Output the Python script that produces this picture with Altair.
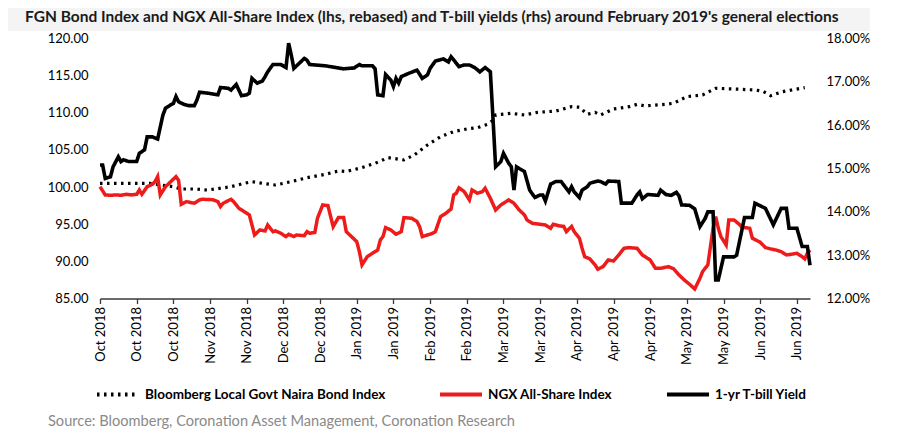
import altair as alt
import pandas as pd

title_text = "FGN Bond Index and NGX All-Share Index (lhs, rebased) and T-bill yields (rhs) around February 2019's general elections"
source_text = "Source: Bloomberg, Coronation Asset Management, Coronation Research"

series_names = ["Bloomberg Local Govt Naira Bond Index", "NGX All-Share Index", "1-yr T-bill Yield"]

tick_dates = ["2018-10-01", "2018-10-15", "2018-10-29", "2018-11-12", "2018-11-26",
              "2018-12-10", "2018-12-24", "2019-01-07", "2019-01-21", "2019-02-04",
              "2019-02-18", "2019-03-04", "2019-03-18", "2019-04-01", "2019-04-15",
              "2019-04-29", "2019-05-13", "2019-05-27", "2019-06-10", "2019-06-24"]
x_start = "2018-10-01"
x_end = "2019-06-29"

left_ticks = [85, 90, 95, 100, 105, 110, 115, 120]
right_ticks = [12, 13, 14, 15, 16, 17, 18]

bond_dates = ["2018-10-01", "2018-10-20", "2018-10-29", "2018-11-01", "2018-11-06", "2018-11-11",
              "2018-11-14", "2018-11-20", "2018-11-25", "2018-11-28", "2018-12-02", "2018-12-07",
              "2018-12-13", "2018-12-19", "2018-12-26", "2018-12-31", "2019-01-03", "2019-01-09",
              "2019-01-14", "2019-01-19", "2019-01-25", "2019-01-29", "2019-02-03", "2019-02-08",
              "2019-02-13", "2019-02-18", "2019-02-22", "2019-02-26", "2019-02-28", "2019-03-01",
              "2019-03-07", "2019-03-12", "2019-03-17", "2019-03-24", "2019-03-30", "2019-04-02",
              "2019-04-05", "2019-04-08", "2019-04-10", "2019-04-15", "2019-04-21", "2019-04-24",
              "2019-04-27", "2019-05-05", "2019-05-08", "2019-05-13", "2019-05-19", "2019-05-24",
              "2019-05-31", "2019-06-08", "2019-06-11", "2019-06-14", "2019-06-18", "2019-06-22",
              "2019-06-27"]
bond_values = [100.50, 100.50, 100.05, 99.74, 99.74, 99.60,
               99.74, 100.05, 100.50, 100.73, 100.50, 100.28,
               100.73, 101.26, 101.72, 102.17, 102.10, 102.62,
               103.20, 103.96, 103.65, 104.32, 105.67, 106.78,
               107.46, 107.82, 108.00, 108.45, 109.00, 109.70,
               109.93, 109.70, 110.06, 110.24, 110.82, 110.75,
               109.80, 110.06, 109.70, 110.51, 110.82, 111.14,
               110.92, 111.14, 111.30, 112.17, 112.40, 113.30,
               113.20, 113.07, 112.90, 112.30, 112.80, 113.07,
               113.38]

ngx_dates = ["2018-10-01", "2018-10-03", "2018-10-05", "2018-10-07", "2018-10-09", "2018-10-11",
             "2018-10-13", "2018-10-15", "2018-10-16", "2018-10-17", "2018-10-19", "2018-10-21",
             "2018-10-22", "2018-10-23", "2018-10-24", "2018-10-26", "2018-10-28", "2018-10-30",
             "2018-10-31", "2018-11-01", "2018-11-03", "2018-11-06", "2018-11-08", "2018-11-09",
             "2018-11-13", "2018-11-15", "2018-11-16", "2018-11-17", "2018-11-20", "2018-11-21",
             "2018-11-23", "2018-11-25", "2018-11-27", "2018-11-28", "2018-11-29", "2018-12-01",
             "2018-12-03", "2018-12-04", "2018-12-05", "2018-12-06", "2018-12-07", "2018-12-09",
             "2018-12-11", "2018-12-12", "2018-12-14", "2018-12-15", "2018-12-18", "2018-12-19",
             "2018-12-20", "2018-12-22", "2018-12-23", "2018-12-25", "2018-12-27", "2018-12-29",
             "2018-12-31", "2019-01-02", "2019-01-03", "2019-01-05", "2019-01-07", "2019-01-08",
             "2019-01-09", "2019-01-11", "2019-01-13", "2019-01-15", "2019-01-16", "2019-01-17",
             "2019-01-18", "2019-01-20", "2019-01-22", "2019-01-24", "2019-01-25", "2019-01-28",
             "2019-01-30", "2019-01-31", "2019-02-01", "2019-02-03", "2019-02-05", "2019-02-06",
             "2019-02-08", "2019-02-10", "2019-02-12", "2019-02-13", "2019-02-14", "2019-02-15",
             "2019-02-17", "2019-02-19", "2019-02-20", "2019-02-22", "2019-02-24", "2019-02-25",
             "2019-02-27", "2019-03-01", "2019-03-03", "2019-03-06", "2019-03-08", "2019-03-10",
             "2019-03-12", "2019-03-13", "2019-03-15", "2019-03-18", "2019-03-20", "2019-03-22",
             "2019-03-23", "2019-03-25", "2019-03-27", "2019-03-28", "2019-03-30", "2019-03-31",
             "2019-04-02", "2019-04-03", "2019-04-04", "2019-04-06", "2019-04-08", "2019-04-09",
             "2019-04-11", "2019-04-13", "2019-04-15", "2019-04-17", "2019-04-19", "2019-04-21",
             "2019-04-24", "2019-04-25", "2019-04-26", "2019-04-29", "2019-05-01", "2019-05-03",
             "2019-05-06", "2019-05-08", "2019-05-10", "2019-05-12", "2019-05-14", "2019-05-16",
             "2019-05-18", "2019-05-19", "2019-05-21", "2019-05-23", "2019-05-24", "2019-05-25",
             "2019-05-26", "2019-05-28", "2019-05-29", "2019-05-31", "2019-06-02", "2019-06-03",
             "2019-06-06", "2019-06-07", "2019-06-10", "2019-06-12", "2019-06-14", "2019-06-16",
             "2019-06-18", "2019-06-20", "2019-06-22", "2019-06-24", "2019-06-26", "2019-06-27",
             "2019-06-28", "2019-06-29"]
ngx_values = [100.05, 98.94, 98.90, 98.94, 98.90, 99.03,
              98.94, 99.03, 99.61, 99.03, 100.05, 100.38,
              100.73, 101.40, 98.94, 100.05, 100.73, 101.40,
              100.90, 97.69, 98.04, 97.82, 98.27, 98.36,
              98.30, 98.04, 97.37, 97.82, 98.36, 98.04,
              97.15, 96.70, 96.25, 94.90, 93.55, 94.23,
              94.09, 94.90, 94.45, 94.00, 94.10, 93.78,
              93.33, 93.65, 93.33, 93.55, 93.45, 94.00,
              93.78, 93.90, 95.80, 97.59, 97.50, 94.67,
              95.89, 95.89, 94.00, 93.33, 92.65, 91.31,
              89.52, 90.63, 91.09, 91.53, 92.88, 93.33,
              94.54, 94.23, 93.65, 94.00, 95.89, 95.80,
              95.35, 94.67, 93.33, 93.55, 93.78, 94.00,
              96.02, 96.47, 97.05, 98.94, 99.17, 99.90,
              99.39, 98.27, 99.61, 99.17, 99.39, 99.84,
              98.49, 96.92, 97.59, 98.27, 97.82, 96.92,
              96.25, 95.57, 95.13, 94.99, 94.90, 94.45,
              94.99, 94.80, 94.70, 94.00, 94.70, 94.00,
              93.11, 91.76, 90.63, 90.33, 89.52, 88.94,
              89.29, 90.19, 90.05, 90.86, 91.76, 91.85,
              91.76, 91.31, 90.86, 90.19, 89.07, 89.07,
              89.29, 88.98, 88.17, 87.50, 86.92, 86.28,
              87.72, 88.62, 89.52, 94.45, 96.02, 94.45,
              93.33, 92.21, 95.57, 95.57, 94.99, 94.60,
              94.45, 93.11, 92.57, 91.85, 91.67, 91.53,
              91.31, 90.86, 90.96, 91.09, 90.63, 90.33,
              91.10, 91.53]

tbill_dates = ["2018-10-01", "2018-10-02", "2018-10-03", "2018-10-05", "2018-10-06", "2018-10-08",
               "2018-10-09", "2018-10-10", "2018-10-12", "2018-10-15", "2018-10-16", "2018-10-18",
               "2018-10-19", "2018-10-21", "2018-10-23", "2018-10-25", "2018-10-26", "2018-10-28",
               "2018-10-29", "2018-10-30", "2018-10-31", "2018-11-02", "2018-11-04", "2018-11-06",
               "2018-11-07", "2018-11-08", "2018-11-11", "2018-11-15", "2018-11-16", "2018-11-19",
               "2018-11-20", "2018-11-22", "2018-11-24", "2018-11-26", "2018-11-27", "2018-11-28",
               "2018-11-30", "2018-12-02", "2018-12-03", "2018-12-04", "2018-12-06", "2018-12-09",
               "2018-12-11", "2018-12-12", "2018-12-13", "2018-12-14", "2018-12-18", "2018-12-19",
               "2018-12-20", "2018-12-26", "2019-01-02", "2019-01-06", "2019-01-08", "2019-01-09",
               "2019-01-13", "2019-01-14", "2019-01-15", "2019-01-17", "2019-01-18", "2019-01-20",
               "2019-01-21", "2019-01-22", "2019-01-23", "2019-01-24", "2019-01-27", "2019-01-30",
               "2019-02-01", "2019-02-03", "2019-02-04", "2019-02-06", "2019-02-09", "2019-02-11",
               "2019-02-12", "2019-02-14", "2019-02-15", "2019-02-17", "2019-02-19", "2019-02-21",
               "2019-02-23", "2019-02-25", "2019-02-27", "2019-02-28", "2019-03-01", "2019-03-03",
               "2019-03-04", "2019-03-06", "2019-03-07", "2019-03-08", "2019-03-09", "2019-03-10",
               "2019-03-12", "2019-03-14", "2019-03-16", "2019-03-18", "2019-03-19", "2019-03-20",
               "2019-03-22", "2019-03-24", "2019-03-26", "2019-03-28", "2019-03-29", "2019-03-30",
               "2019-03-31", "2019-04-02", "2019-04-03", "2019-04-05", "2019-04-06", "2019-04-09",
               "2019-04-10", "2019-04-12", "2019-04-13", "2019-04-17", "2019-04-18", "2019-04-22",
               "2019-04-24", "2019-04-25", "2019-04-26", "2019-04-28", "2019-05-02", "2019-05-03",
               "2019-05-05", "2019-05-07", "2019-05-09", "2019-05-10", "2019-05-11", "2019-05-14",
               "2019-05-16", "2019-05-18", "2019-05-20", "2019-05-21", "2019-05-23", "2019-05-24",
               "2019-05-25", "2019-05-27", "2019-05-29", "2019-05-31", "2019-06-01", "2019-06-04",
               "2019-06-07", "2019-06-08", "2019-06-10", "2019-06-12", "2019-06-15", "2019-06-18",
               "2019-06-20", "2019-06-21", "2019-06-24", "2019-06-26", "2019-06-28", "2019-06-29"]
tbill_values = [15.08, 15.08, 14.77, 14.81, 15.04, 15.27,
                15.16, 15.20, 15.16, 15.16, 15.35, 15.43,
                15.73, 15.73, 15.68, 16.23, 16.39, 16.47,
                16.50, 16.66, 16.54, 16.48, 16.45, 16.45,
                16.58, 16.76, 16.74, 16.70, 16.87, 16.85,
                16.81, 16.94, 16.68, 16.70, 16.74, 17.08,
                16.97, 17.02, 17.12, 17.23, 17.40, 17.40,
                17.33, 17.89, 17.62, 17.31, 17.54, 17.50,
                17.40, 17.37, 17.30, 17.32, 17.40, 17.37,
                17.37, 17.30, 16.70, 16.68, 17.17, 17.04,
                16.89, 17.08, 16.97, 17.12, 17.20, 17.27,
                17.08, 17.16, 17.31, 17.48, 17.53, 17.46,
                17.58, 17.43, 17.35, 17.39, 17.39, 17.33,
                17.23, 17.33, 17.23, 16.16, 15.04, 15.16,
                15.35, 15.12, 15.04, 14.50, 15.04, 15.00,
                14.93, 14.50, 14.33, 14.39, 14.39, 14.25,
                14.64, 14.70, 14.70, 14.54, 14.46, 14.58,
                14.46, 14.33, 14.50, 14.58, 14.66, 14.71,
                14.70, 14.64, 14.71, 14.70, 14.20, 14.20,
                14.39, 14.46, 14.30, 14.40, 14.38, 14.50,
                14.40, 14.38, 14.45, 14.37, 14.16, 14.15,
                14.07, 13.66, 13.85, 14.00, 14.00, 12.43,
                12.43, 12.96, 12.96, 12.96, 13.00, 13.87,
                13.87, 14.20, 14.14, 14.08, 13.70, 14.08,
                14.08, 13.62, 13.62, 13.20, 13.20, 12.77]

line_colors = ["#000000", "#ee1b1b", "#000000"]
line_dashes = [[2.5, 4.5], [1, 0], [1, 0]]


def dt(s):
    t = pd.Timestamp(s)
    return alt.DateTime(year=t.year, month=t.month, date=t.day)


bond_df = pd.DataFrame({"date": pd.to_datetime(bond_dates), "value": bond_values, "series": series_names[0]})
ngx_df = pd.DataFrame({"date": pd.to_datetime(ngx_dates), "value": ngx_values, "series": series_names[1]})
tbill_df = pd.DataFrame({"date": pd.to_datetime(tbill_dates), "value": tbill_values, "series": series_names[2]})

FONT = "Lato"

x_enc = alt.X(
    "date:T",
    scale=alt.Scale(domain=[dt(x_start), dt(x_end)]),
    axis=alt.Axis(values=[dt(d) for d in tick_dates], format="%b %Y", labelAngle=-90,
                  title=None, grid=False, tickSize=5, tickWidth=1.3, domainWidth=1.3,
                  domainColor="#3a3a3a", tickColor="#3a3a3a", labelFontSize=13,
                  labelColor="#000000", labelPadding=3, labelFont=FONT),
)

left_axis = alt.Axis(values=left_ticks, format=".2f", title=None, domain=False, ticks=False,
                     grid=False, labelPadding=12, labelFontSize=13, labelColor="#000000",
                     labelFont=FONT)
left_scale = alt.Scale(domain=[85, 120], nice=False, zero=False)

legend_opts = dict(title=None, orient="none", legendX=-5, legendY=333,
                   direction="horizontal", columns=3, symbolType="stroke",
                   symbolSize=1764, symbolStrokeWidth=4, labelFont=FONT,
                   labelFontSize=13.5, labelFontWeight="bold", labelColor="#000000",
                   columnPadding=46, labelOffset=4, labelLimit=400)

color_enc = alt.Color("series:N", scale=alt.Scale(domain=series_names, range=line_colors),
                      legend=alt.Legend(**legend_opts))
dash_enc = alt.StrokeDash("series:N", scale=alt.Scale(domain=series_names, range=line_dashes),
                          legend=alt.Legend(**legend_opts))

bond_line = alt.Chart(bond_df).mark_line(strokeWidth=3.2).encode(
    x=x_enc, y=alt.Y("value:Q", scale=left_scale, axis=left_axis),
    color=color_enc, strokeDash=dash_enc)
ngx_line = alt.Chart(ngx_df).mark_line(strokeWidth=3.5).encode(
    x=x_enc, y=alt.Y("value:Q", scale=left_scale, axis=left_axis),
    color=color_enc, strokeDash=dash_enc)

right_line = alt.Chart(tbill_df).mark_line(strokeWidth=3.6).encode(
    x=x_enc,
    y=alt.Y("value:Q", scale=alt.Scale(domain=[12, 18], nice=False, zero=False),
            axis=alt.Axis(orient="right", values=right_ticks, title=None, domain=False,
                          ticks=False, grid=False, labelPadding=16, labelFontSize=13,
                          labelColor="#000000", labelFont=FONT,
                          labelExpr="format(datum.value, '.2f') + '%'")),
    color=color_enc, strokeDash=dash_enc)

band = alt.Chart(pd.DataFrame({"k": [0]})).mark_rect(color="#f4f4f4").encode(
    x=alt.value(-92), x2=alt.value(770), y=alt.value(-30.5), y2=alt.value(-7.5))
title_mark = alt.Chart(pd.DataFrame({"t": [title_text]})).mark_text(
    align="left", baseline="middle", font=FONT, fontSize=15.5, fontWeight="bold",
    color="#1a1a1a").encode(text="t:N", x=alt.value(-75), y=alt.value(-22))
source_mark = alt.Chart(pd.DataFrame({"t": [source_text]})).mark_text(
    align="left", baseline="middle", font=FONT, fontSize=14.6, color="#8a8a8a").encode(
    text="t:N", x=alt.value(-52), y=alt.value(383.5))

left_layer = alt.layer(bond_line, ngx_line)
chart = alt.layer(band, title_mark, source_mark, left_layer, right_line).resolve_scale(
    y="independent"
).properties(
    width=710, height=260,
    autosize=alt.AutoSizeParams(type="none"),
    padding={"left": 92, "top": 30.5, "right": 82, "bottom": 136},
).configure(font=FONT).configure_view(stroke=None)

chart.save("out.html", embed_options={"renderer": "svg", "actions": False})
